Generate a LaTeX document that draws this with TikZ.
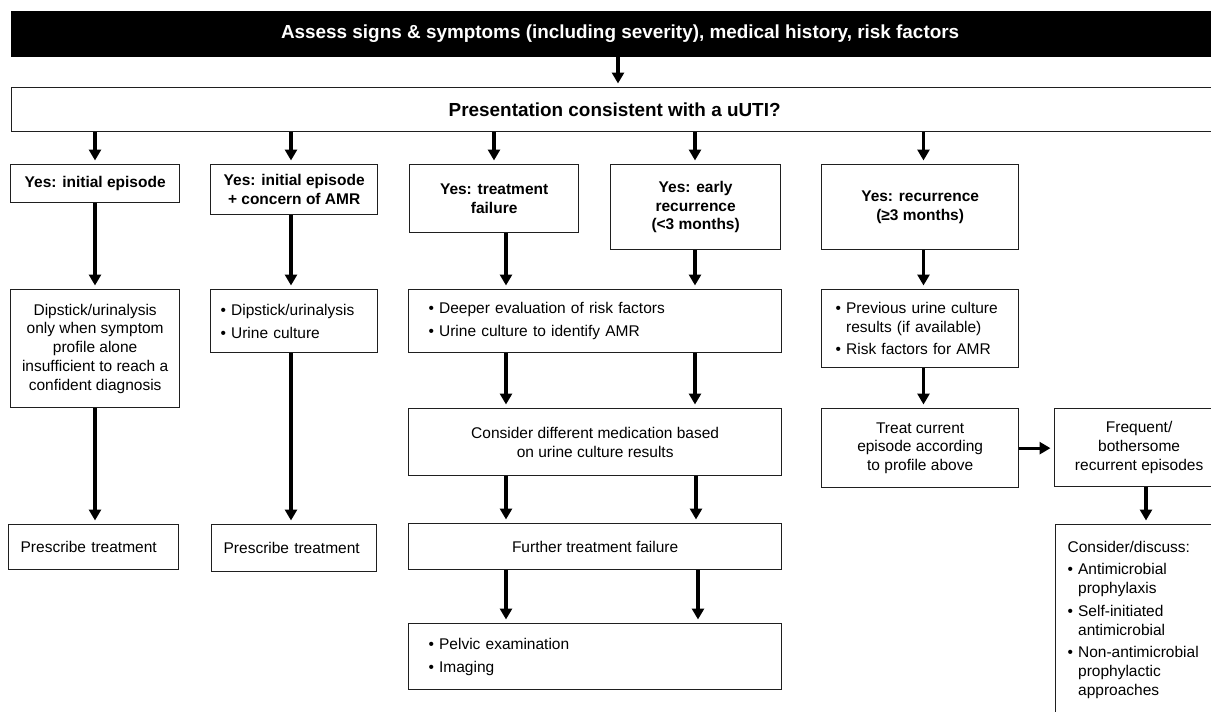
\documentclass[tikz,border=0pt]{standalone}
\usepackage{fontspec}
\setmainfont{Liberation Sans}
\usetikzlibrary{arrows.meta,calc}
\setlength{\parindent}{0pt}
\newcommand\bodyfont{\fontsize{15.5}{18.7}\selectfont}
\newcommand\bigfont{\fontsize{18.9}{22}\selectfont}
\newcommand\bu[1]{\mbox{\makebox[10.5pt][l]{•}#1}}
\newcommand\bc[1]{\mbox{\hspace*{10.5pt}#1}}
\begin{document}
\begin{tikzpicture}[x=1pt,y=-1pt,
  box/.style={draw=black!88, line width=1.3pt, rectangle, inner sep=0pt, anchor=north west, font=\bodyfont},
  hdr/.style={box, font=\bodyfont\bfseries, align=center},
  bighdr/.style={box, font=\bigfont\bfseries, align=center},
  ctr/.style={box, align=center},
  lft/.style={box, align=left},
  arr/.style={line width=3.2pt, -{Triangle[width=12pt,length=11pt]}, shorten >=3.5pt}
]
\useasboundingbox (0,0) rectangle (1211,712);
\clip (0,0) rectangle (1211,712);

% column x positions for connectors
\coordinate (x0) at (618,0);
\coordinate (xA) at (95,0);
\coordinate (xB) at (291,0);
\coordinate (xC) at (494,0);
\coordinate (xC2) at (506,0);
\coordinate (xD) at (695,0);
\coordinate (xD2) at (696,0);
\coordinate (xD3) at (698,0);
\coordinate (xE) at (923.5,0);
\coordinate (xF) at (1146,0);

% top rows
\node[bighdr, fill=black, draw=black, text=white, minimum width=1217pt, minimum height=45pt] (top) at (11,11)
  {Assess signs \& symptoms (including severity), medical history, risk factors};
\node[bighdr, minimum width=1206pt, minimum height=44pt] (pres) at (11,87)
  {Presentation consistent with a uUTI?};

% "Yes" boxes
\node[hdr, minimum width=169pt, minimum height=38pt] (y1) at (10,164) {Yes: initial episode};
\node[hdr, minimum width=167pt, minimum height=50pt] (y2) at (210,164) {Yes: initial episode\\+ concern of AMR};
\node[hdr, minimum width=169pt, minimum height=68pt] (y3) at (409,164) {Yes: treatment\\failure};
\node[hdr, minimum width=170pt, minimum height=85pt] (y4) at (610,164) {Yes: early\\recurrence\\(<3 months)};
\node[hdr, minimum width=197pt, minimum height=85pt] (y5) at (821,164) {Yes: recurrence\\(≥3 months)};

% second level
\node[ctr, minimum width=169pt, minimum height=118pt] (d1) at (10,289)
  {Dipstick/urinalysis\\only when symptom\\profile alone\\insufficient to reach a\\confident diagnosis};
\node[lft, text width=147pt, inner xsep=10pt, minimum height=63pt] (d2) at (210,289)
  {\bu{Dipstick/urinalysis}\\[4pt]\bu{Urine culture}};
\node[lft, text width=333pt, inner xsep=20pt, minimum height=63pt] (deeper) at (408,289)
  {\bu{Deeper evaluation of risk factors}\\[4pt]\bu{Urine culture to identify AMR}};
\node[lft, text width=169pt, inner xsep=14pt, minimum height=78pt] (prev) at (821,289)
  {\bu{Previous urine culture}\\\bc{results (if available)}\\[4pt]\bu{Risk factors for AMR}};

% third level
\node[ctr, minimum width=373pt, minimum height=67pt] (consid) at (408,408)
  {Consider different medication based\\on urine culture results};
\node[ctr, minimum width=197pt, minimum height=79pt] (treat) at (821,408)
  {Treat current\\episode according\\to profile above};
\node[ctr, minimum width=169pt, minimum height=78pt] (freq) at (1054,408)
  {Frequent/\\bothersome\\recurrent episodes};

% fourth level
\node[lft, text width=146pt, inner xsep=12pt, minimum height=45pt] (p1) at (8,524) {Prescribe treatment};
\node[lft, text width=141pt, inner xsep=12pt, minimum height=47pt] (p2) at (211,524) {Prescribe treatment};
\node[ctr, minimum width=373pt, minimum height=46pt] (further) at (408,523) {Further treatment failure};
\node[lft, text width=151pt, inner xsep=12pt, minimum height=190pt] (cdisc) at (1055,524)
  {Consider/discuss:\\[4pt]\bu{Antimicrobial}\\\bc{prophylaxis}\\[4pt]\bu{Self-initiated}\\\bc{antimicrobial}\\[4pt]\bu{Non-antimicrobial}\\\bc{prophylactic}\\\bc{approaches}};

% fifth level
\node[lft, text width=333pt, inner xsep=20pt, minimum height=66pt] (pelvic) at (408,623)
  {\bu{Pelvic examination}\\[4pt]\bu{Imaging}};

% connectors
\draw[arr] (top.south -| x0) -- (pres.north -| x0);
\draw[arr] (pres.south -| xA) -- (y1.north -| xA);
\draw[arr] (pres.south -| xB) -- (y2.north -| xB);
\draw[arr] (pres.south -| xC) -- (y3.north -| xC);
\draw[arr] (pres.south -| xD) -- (y4.north -| xD);
\draw[arr] (pres.south -| xE) -- (y5.north -| xE);

\draw[arr] (y1.south -| xA) -- (d1.north -| xA);
\draw[arr] (d1.south -| xA) -- (p1.north -| xA);
\draw[arr] (y2.south -| xB) -- (d2.north -| xB);
\draw[arr] (d2.south -| xB) -- (p2.north -| xB);

\draw[arr] (y3.south -| xC2) -- (deeper.north -| xC2);
\draw[arr] (y4.south -| xD) -- (deeper.north -| xD);
\draw[arr] (deeper.south -| xC2) -- (consid.north -| xC2);
\draw[arr] (deeper.south -| xD) -- (consid.north -| xD);
\draw[arr] (consid.south -| xC2) -- (further.north -| xC2);
\draw[arr] (consid.south -| xD2) -- (further.north -| xD2);
\draw[arr] (further.south -| xC2) -- (pelvic.north -| xC2);
\draw[arr] (further.south -| xD3) -- (pelvic.north -| xD3);

\draw[arr] (y5.south -| xE) -- (prev.north -| xE);
\draw[arr] (prev.south -| xE) -- (treat.north -| xE);
\draw[arr] (treat.east) -- (freq.west |- treat.east);
\draw[arr] (freq.south -| xF) -- (cdisc.north -| xF);
\end{tikzpicture}
\end{document}
